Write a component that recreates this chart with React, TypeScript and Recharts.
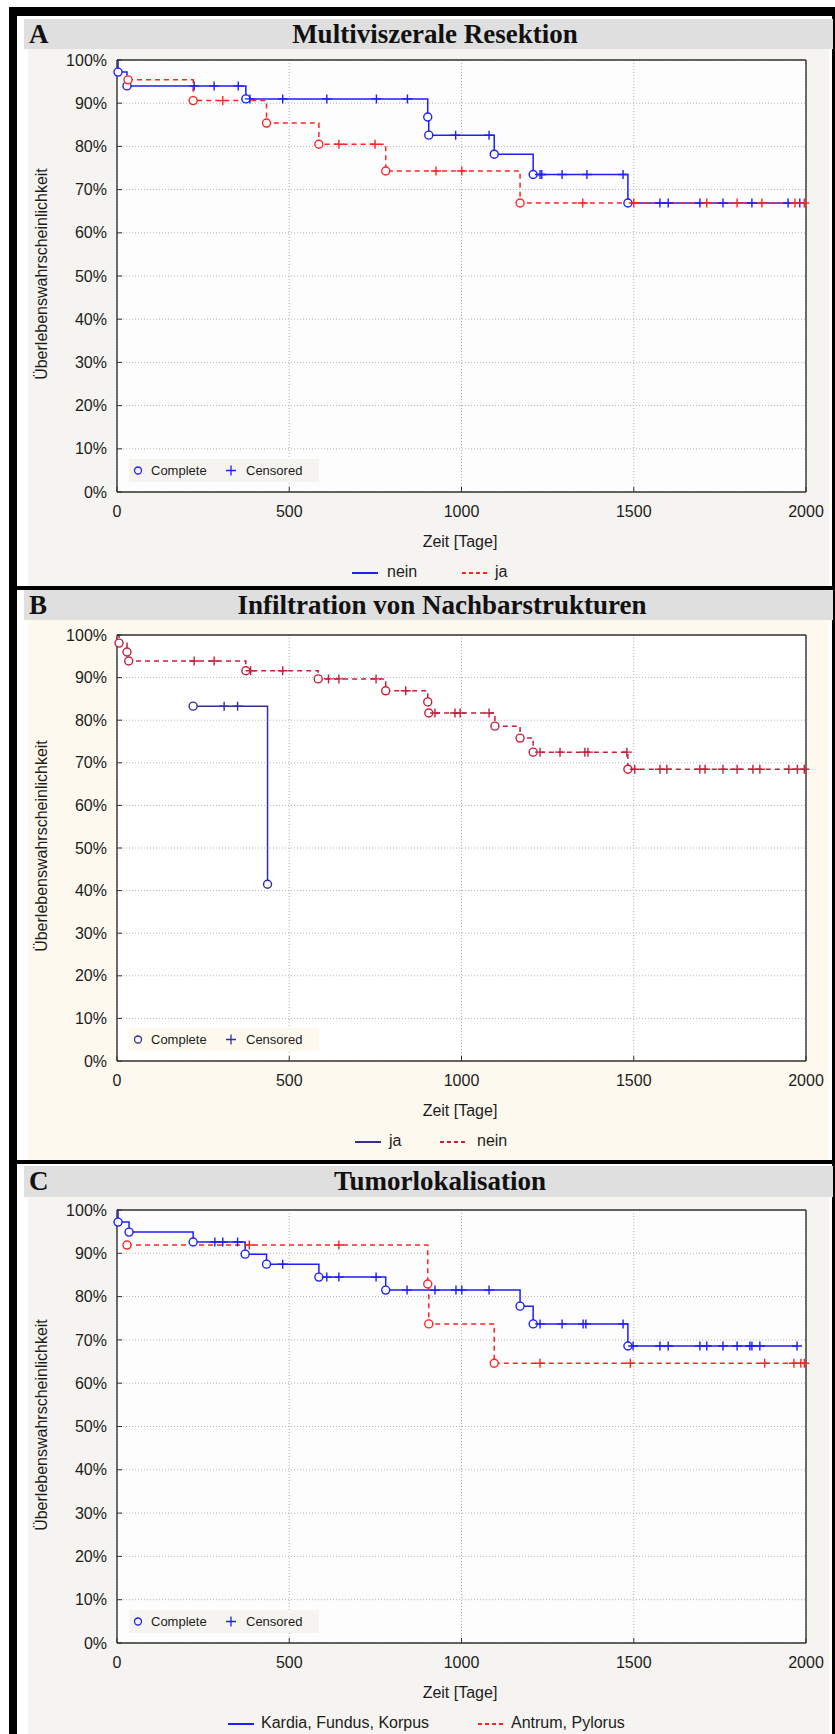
import React from "react";
import { LineChart, Line, XAxis, YAxis, CartesianGrid } from "recharts";

// [time in days, survival in %, mark] — "o" complete, "+" censored
type Row = [number, number, string];

const xTicks = [0, 500, 1000, 1500, 2000];
const yTicks = [0, 10, 20, 30, 40, 50, 60, 70, 80, 90, 100];

// A — Multiviszerale Resektion
const aNein: Row[] = [
  [0, 100, ""], [3, 97.2, "o"], [29, 94.0, "o"], [224, 94.0, "+"], [282, 94.0, "+"], [352, 94.0, "+"],
  [374, 91.0, "o"], [386, 91.0, "+"], [481, 91.0, "+"], [609, 91.0, "+"], [753, 91.0, "+"], [843, 91.0, "+"],
  [902, 86.8, "o"], [905, 82.6, "o"], [983, 82.6, "+"], [1080, 82.6, "+"], [1095, 78.2, "o"],
  [1208, 73.5, "o"], [1228, 73.5, "+"], [1233, 73.5, "+"], [1292, 73.5, "+"], [1364, 73.5, "+"], [1469, 73.5, "+"],
  [1483, 66.9, "o"], [1576, 66.9, "+"], [1600, 66.9, "+"], [1692, 66.9, "+"], [1759, 66.9, "+"],
  [1843, 66.9, "+"], [1948, 66.9, "+"], [1982, 66.9, "+"],
];
const aJa: Row[] = [
  [32, 95.4, "o"], [221, 90.6, "o"], [307, 90.6, "+"], [434, 85.4, "o"], [586, 80.5, "o"],
  [644, 80.5, "+"], [749, 80.5, "+"], [780, 74.3, "o"], [926, 74.3, "+"], [1001, 74.3, "+"],
  [1170, 66.9, "o"], [1352, 66.9, "+"], [1500, 66.9, "+"], [1712, 66.9, "+"], [1800, 66.9, "+"],
  [1872, 66.9, "+"], [1968, 66.9, "+"], [1995, 66.9, "+"],
];

// B — Infiltration von Nachbarstrukturen
const bJa: Row[] = [
  [221, 83.3, "o"], [311, 83.3, "+"], [350, 83.3, "+"], [437, 41.5, "o"],
];
const bNein: Row[] = [
  [0, 100, ""], [6, 98.1, "o"], [29, 96.0, "o"], [34, 93.9, "o"], [224, 93.9, "+"], [282, 93.9, "+"],
  [374, 91.6, "o"], [388, 91.6, "+"], [481, 91.6, "+"], [584, 89.7, "o"], [614, 89.7, "+"], [644, 89.7, "+"],
  [752, 89.7, "+"], [780, 86.9, "o"], [838, 86.9, "+"], [902, 84.3, "o"], [905, 81.7, "o"], [923, 81.7, "+"],
  [981, 81.7, "+"], [996, 81.7, "+"], [1080, 81.7, "+"], [1097, 78.6, "o"], [1170, 75.8, "o"], [1208, 72.5, "o"],
  [1228, 72.5, "+"], [1286, 72.5, "+"], [1358, 72.5, "+"], [1367, 72.5, "+"], [1480, 72.5, "+"],
  [1483, 68.5, "o"], [1503, 68.5, "+"], [1576, 68.5, "+"], [1596, 68.5, "+"], [1692, 68.5, "+"],
  [1707, 68.5, "+"], [1759, 68.5, "+"], [1800, 68.5, "+"], [1846, 68.5, "+"], [1866, 68.5, "+"],
  [1950, 68.5, "+"], [1975, 68.5, "+"], [1995, 68.5, "+"],
];

// C — Tumorlokalisation
const cKardia: Row[] = [
  [0, 100, ""], [3, 97.2, "o"], [35, 94.9, "o"], [221, 92.6, "o"], [284, 92.6, "+"], [307, 92.6, "+"],
  [350, 92.6, "+"], [372, 89.8, "o"], [434, 87.5, "o"], [481, 87.5, "+"], [586, 84.5, "o"], [609, 84.5, "+"],
  [644, 84.5, "+"], [752, 84.5, "+"], [780, 81.5, "o"], [842, 81.5, "+"], [923, 81.5, "+"], [984, 81.5, "+"],
  [1001, 81.5, "+"], [1080, 81.5, "+"], [1170, 77.8, "o"], [1208, 73.7, "o"], [1228, 73.7, "+"],
  [1292, 73.7, "+"], [1353, 73.7, "+"], [1361, 73.7, "+"], [1469, 73.7, "+"], [1483, 68.6, "o"],
  [1498, 68.6, "+"], [1576, 68.6, "+"], [1600, 68.6, "+"], [1692, 68.6, "+"], [1712, 68.6, "+"],
  [1759, 68.6, "+"], [1800, 68.6, "+"], [1837, 68.6, "+"], [1843, 68.6, "+"], [1866, 68.6, "+"],
  [1974, 68.6, "+"],
];
const cAntrum: Row[] = [
  [29, 91.9, "o"], [384, 91.9, "+"], [644, 91.9, "+"], [902, 82.9, "o"], [905, 73.7, "o"],
  [1095, 64.6, "o"], [1228, 64.6, "+"], [1490, 64.6, "+"], [1880, 64.6, "+"], [1965, 64.6, "+"],
  [1985, 64.6, "+"], [1995, 64.6, "+"],
];

const toPts = (rows: Row[]) => rows.map(([t, s, m]) => ({ t, s, m }));

const FONT = "'Liberation Sans', Arial, sans-serif";
const SERIF = "'Liberation Serif', 'Times New Roman', serif";
const TXT = "#1c1c1c";

const mark = (color: string) => (p: any) => {
  const { cx, cy, payload, index } = p;
  if (payload && payload.m === "o")
    return <circle key={`o${index}`} cx={cx} cy={cy} r={4} fill="#fdfdfd" stroke={color} strokeWidth={1.4} />;
  if (payload && payload.m === "+")
    return (
      <path
        key={`c${index}`}
        d={`M${cx - 5},${cy}H${cx + 5}M${cx},${cy - 4.5}V${cy + 4.5}`}
        stroke={color}
        strokeWidth={1.4}
        fill="none"
      />
    );
  return <g key={`n${index}`} />;
};

type Series = { name: string; rows: Row[]; color: string; dashed: boolean };

type PanelProps = {
  letter: string;
  title: string;
  titleCenter: number;
  bandTop: number;
  bandBottom: number;
  bgBottom: number;
  plotTop: number;
  plotBottom: number;
  bg: string;
  plotBg: string;
  series: Series[];
  legend: { name: string; color: string; dashed: boolean; lineX: number; textX: number }[];
  markColor: string;
};

const PLOT_L = 117;
const PLOT_R = 806;
const CHART_L = 28;
const CHART_R = 829;

const Panel = (p: PanelProps) => {
  const chartH = p.bgBottom - p.bandBottom;
  const xAxisH = 30;
  const topAxisH = 4;
  const yAxisW = 60;
  const rAxisW = 4;
  const margin = {
    top: p.plotTop - p.bandBottom - topAxisH,
    bottom: p.bgBottom - p.plotBottom - xAxisH,
    left: PLOT_L - CHART_L - yAxisW,
    right: CHART_R - PLOT_R - rAxisW,
  };
  const plotMid = (p.plotTop + p.plotBottom) / 2;
  const axisStroke = { stroke: "#333", strokeWidth: 1.4 };
  return (
    <>
      <div
        style={{
          position: "absolute",
          left: 24,
          top: p.bandTop,
          width: 809,
          height: p.bandBottom - p.bandTop,
          background: "#dfdfdf",
        }}
      />
      <div
        style={{
          position: "absolute",
          left: 29,
          top: p.bandTop,
          height: p.bandBottom - p.bandTop,
          lineHeight: `${p.bandBottom - p.bandTop}px`,
          font: `bold 27px ${SERIF}`,
          color: "#111",
        }}
      >
        {p.letter}
      </div>
      <div
        style={{
          position: "absolute",
          left: p.titleCenter - 300,
          width: 600,
          textAlign: "center",
          top: p.bandTop,
          height: p.bandBottom - p.bandTop,
          lineHeight: `${p.bandBottom - p.bandTop}px`,
          font: `bold 27px ${SERIF}`,
          color: "#111",
        }}
      >
        {p.title}
      </div>
      <div
        style={{
          position: "absolute",
          left: CHART_L,
          top: p.bandBottom,
          width: CHART_R - CHART_L,
          height: chartH,
          background: p.bg,
        }}
      >
        <LineChart width={CHART_R - CHART_L} height={chartH} margin={margin}>
          <CartesianGrid stroke="#b4b4b4" strokeDasharray="1 2" fill={p.plotBg} />
          <XAxis
            dataKey="t"
            type="number"
            domain={[0, 2000]}
            ticks={xTicks}
            interval={0}
            height={xAxisH}
            tickSize={-5}
            tickMargin={19}
            axisLine={axisStroke}
            tickLine={{ stroke: "#333" }}
            tick={{ fill: TXT, fontSize: 16, fontFamily: FONT }}
          />
          <XAxis
            xAxisId="top"
            orientation="top"
            dataKey="t"
            type="number"
            domain={[0, 2000]}
            ticks={xTicks}
            interval={0}
            height={topAxisH}
            tickSize={-5}
            axisLine={axisStroke}
            tickLine={{ stroke: "#333" }}
            tick={false}
          />
          <YAxis
            type="number"
            domain={[0, 100]}
            ticks={yTicks}
            interval={0}
            width={yAxisW}
            tickSize={-5}
            tickMargin={15}
            tickFormatter={(v: number) => `${v}%`}
            axisLine={axisStroke}
            tickLine={{ stroke: "#333" }}
            tick={{ fill: TXT, fontSize: 16, fontFamily: FONT }}
          />
          <YAxis
            yAxisId="r"
            orientation="right"
            type="number"
            domain={[0, 100]}
            ticks={yTicks}
            interval={0}
            width={rAxisW}
            tickSize={-5}
            axisLine={axisStroke}
            tickLine={{ stroke: "#333" }}
            tick={false}
          />
          {p.series.map((s) => (
            <Line
              key={s.name}
              data={toPts(s.rows)}
              dataKey="s"
              type="stepAfter"
              stroke={s.color}
              strokeWidth={1.5}
              strokeDasharray={s.dashed ? "5 4" : undefined}
              dot={mark(s.color)}
              activeDot={false}
              isAnimationActive={false}
            />
          ))}
        </LineChart>
      </div>
      {/* Complete / Censored key */}
      <div
        style={{
          position: "absolute",
          left: 129,
          top: p.plotBottom - 33,
          width: 190,
          height: 23,
          background: p.bg,
          font: `13px ${FONT}`,
          color: TXT,
        }}
      >
        <svg width={190} height={23} style={{ position: "absolute", left: 0, top: 0 }}>
          <circle cx={9} cy={11.5} r={3.5} fill="none" stroke={p.markColor} strokeWidth={1.3} />
          <path d="M97,11.5H107M102,6.5V16.5" stroke={p.markColor} strokeWidth={1.3} />
        </svg>
        <span style={{ position: "absolute", left: 22, top: 0, lineHeight: "23px" }}>Complete</span>
        <span style={{ position: "absolute", left: 117, top: 0, lineHeight: "23px" }}>Censored</span>
      </div>
      {/* axis titles */}
      <div
        style={{
          position: "absolute",
          left: 43 - 150,
          top: plotMid - 2 - 10,
          width: 300,
          height: 20,
          lineHeight: "20px",
          textAlign: "center",
          transform: "rotate(-90deg)",
          font: `16px ${FONT}`,
          color: TXT,
        }}
      >
        Überlebenswahrscheinlichkeit
      </div>
      <div
        style={{
          position: "absolute",
          left: 460 - 100,
          width: 200,
          textAlign: "center",
          top: p.plotBottom + 41,
          lineHeight: "20px",
          font: `16px ${FONT}`,
          color: TXT,
        }}
      >
        Zeit [Tage]
      </div>
      {/* series legend */}
      {p.legend.map((l) => (
        <React.Fragment key={l.name}>
          <svg
            width={26}
            height={6}
            style={{ position: "absolute", left: l.lineX, top: p.plotBottom + 78 }}
          >
            <line
              x1={0}
              y1={3}
              x2={26}
              y2={3}
              stroke={l.color}
              strokeWidth={2}
              strokeDasharray={l.dashed ? "4 3" : undefined}
            />
          </svg>
          <div
            style={{
              position: "absolute",
              left: l.textX,
              top: p.plotBottom + 71,
              lineHeight: "20px",
              font: `16px ${FONT}`,
              color: TXT,
              whiteSpace: "nowrap",
            }}
          >
            {l.name}
          </div>
        </React.Fragment>
      ))}
    </>
  );
};

const BLUE = "#1e1eff";
const RED = "#ff2424";
const NAVY = "#30309a";
const CRIMSON = "#c81e3c";

export default function App() {
  const black = (l: number, t: number, w: number, h: number) => (
    <div style={{ position: "absolute", left: l, top: t, width: w, height: h, background: "#000" }} />
  );
  return (
    <div
      style={{
        position: "absolute",
        left: 0,
        top: 0,
        width: 835,
        height: 1734,
        background: "#fff",
        overflow: "hidden",
      }}
    >
      {black(9, 7, 826, 9)}
      {black(9, 7, 8, 1727)}
      {black(832, 7, 3, 1727)}
      {black(9, 586, 826, 4)}
      {black(9, 1160, 826, 4)}
      <Panel
        letter="A"
        title="Multiviszerale Resektion"
        titleCenter={435}
        bandTop={19}
        bandBottom={49}
        bgBottom={586}
        plotTop={60}
        plotBottom={492}
        bg="#f5f4f0"
        plotBg="#fdfdfd"
        markColor={BLUE}
        series={[
          { name: "nein", rows: aNein, color: BLUE, dashed: false },
          { name: "ja", rows: aJa, color: RED, dashed: true },
        ]}
        legend={[
          { name: "nein", color: BLUE, dashed: false, lineX: 352, textX: 387 },
          { name: "ja", color: RED, dashed: true, lineX: 462, textX: 495 },
        ]}
      />
      <Panel
        letter="B"
        title="Infiltration von Nachbarstrukturen"
        titleCenter={442}
        bandTop={590}
        bandBottom={620}
        bgBottom={1160}
        plotTop={635}
        plotBottom={1061}
        bg="#fdf9ef"
        plotBg="#ffffff"
        markColor={NAVY}
        series={[
          { name: "nein", rows: bNein, color: CRIMSON, dashed: true },
          { name: "ja", rows: bJa, color: NAVY, dashed: false },
        ]}
        legend={[
          { name: "ja", color: NAVY, dashed: false, lineX: 355, textX: 389 },
          { name: "nein", color: CRIMSON, dashed: true, lineX: 440, textX: 477 },
        ]}
      />
      <Panel
        letter="C"
        title="Tumorlokalisation"
        titleCenter={440}
        bandTop={1166}
        bandBottom={1197}
        bgBottom={1734}
        plotTop={1210}
        plotBottom={1643}
        bg="#f5f4f0"
        plotBg="#fdfdfd"
        markColor={BLUE}
        series={[
          { name: "Kardia, Fundus, Korpus", rows: cKardia, color: BLUE, dashed: false },
          { name: "Antrum, Pylorus", rows: cAntrum, color: RED, dashed: true },
        ]}
        legend={[
          { name: "Kardia, Fundus, Korpus", color: BLUE, dashed: false, lineX: 228, textX: 261 },
          { name: "Antrum, Pylorus", color: RED, dashed: true, lineX: 478, textX: 511 },
        ]}
      />
    </div>
  );
}
